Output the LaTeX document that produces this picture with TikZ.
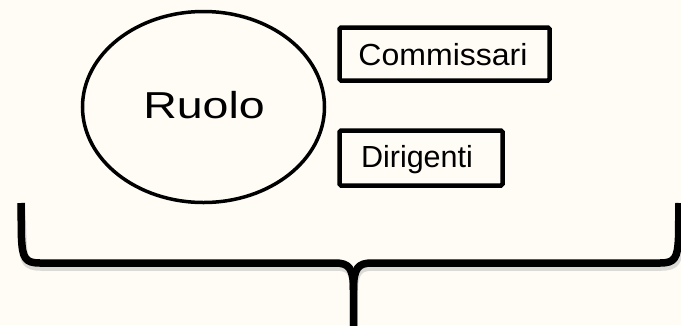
\documentclass[tikz,border=0pt]{standalone}
\usepackage{fontspec}
\usepackage{graphicx}
\setmainfont{Liberation Sans}
\usetikzlibrary{shapes.geometric}
\definecolor{bgcream}{HTML}{FFFCF5}
\tikzset{
  boxnode/.style={draw=black, line width=4.5pt, rounded corners=1.5pt, inner sep=0pt, fill=none},
  ovalnode/.style={draw=black, line width=3.5pt, ellipse, inner sep=0pt},
  lbl/.style={anchor=base, inner sep=0pt, text=black},
  bracestroke/.style={line width=7.5pt, line cap=butt, line join=round},
}
\begin{document}
\begin{tikzpicture}[x=1pt, y=-1pt]
\fill[bgcream] (0,0) rectangle (681,325);
\useasboundingbox (0,0) rectangle (681,325);

% ellipse and label
\node[ovalnode, minimum width=242pt, minimum height=191pt] (ruolo) at (203.5,107) {};
\node[lbl, font=\fontsize{37.5}{45}\selectfont] (ruolot) at (204,118) {\scalebox{1.24}[1]{Ruolo}};

% boxes
\node[boxnode, minimum width=210pt, minimum height=53pt] (comm) at (444.5,54) {};
\node[lbl, font=\fontsize{30.5}{36}\selectfont] (commt) at (443,65) {\scalebox{1.05}[1]{Commissari}};
\node[boxnode, minimum width=163pt, minimum height=55pt] (dir) at (421,158) {};
\node[lbl, font=\fontsize{30.5}{36}\selectfont] (dirt) at (417,167) {Dirigenti};

% brace coordinates
\coordinate (bl) at (21,203);
\coordinate (br) at (679,203);
\coordinate (bm) at (353.5,290);
\coordinate (bb) at (353.5,326);

% brace shadow
\begin{scope}[shift={(1,3.5)}]
\draw[bracestroke, gray!60, opacity=0.45, line width=8.5pt]
  (bl) -- (21.5,238) .. controls (22.5,258) and (25,263) .. (40,263) -- (335,263)
  .. controls (349,263) and (353.5,268) .. (bm) -- (bb);
\draw[bracestroke, gray!60, opacity=0.45, line width=8.5pt]
  (br) -- (678.5,238) .. controls (677.5,258) and (675,263) .. (660,263) -- (372,263)
  .. controls (358,263) and (353.5,268) .. (bm);
\end{scope}

% brace
\draw[bracestroke, black]
  (bl) -- (21.5,238) .. controls (22.5,258) and (25,263) .. (40,263) -- (335,263)
  .. controls (349,263) and (353.5,268) .. (bm) -- (bb);
\draw[bracestroke, black]
  (br) -- (678.5,238) .. controls (677.5,258) and (675,263) .. (660,263) -- (372,263)
  .. controls (358,263) and (353.5,268) .. (bm);
\end{tikzpicture}
\end{document}
